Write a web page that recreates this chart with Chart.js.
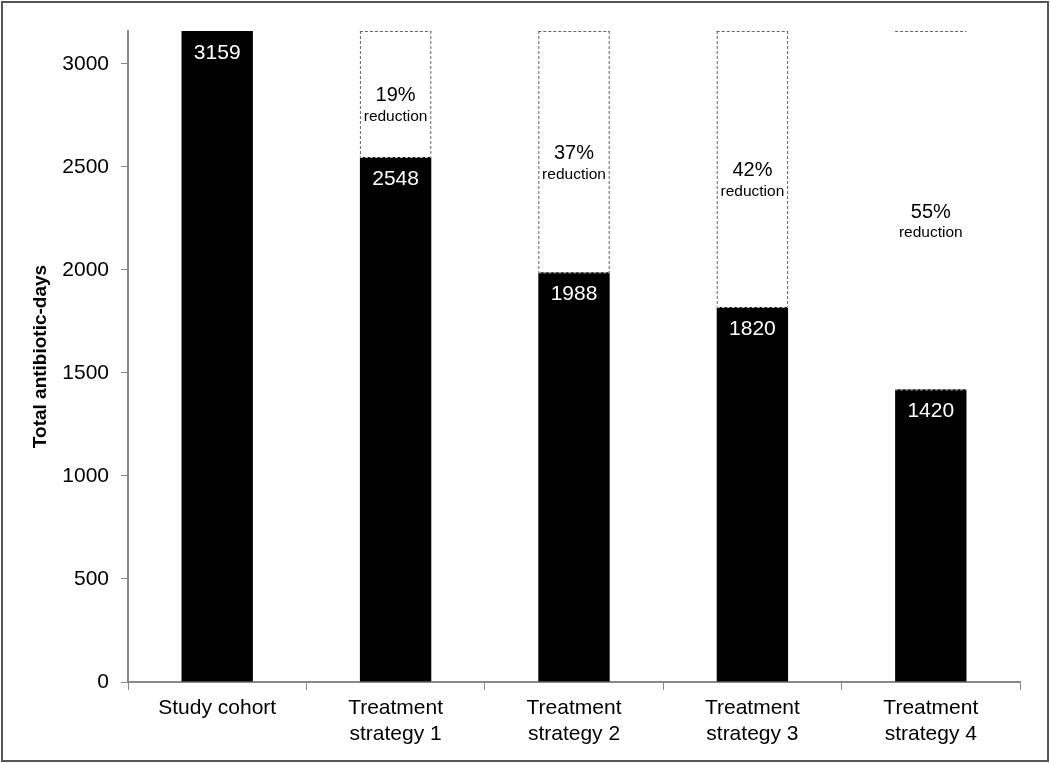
<!DOCTYPE html>
<html>
<head>
<meta charset="utf-8">
<script src="https://cdn.jsdelivr.net/npm/chart.js@4.4.0/dist/chart.umd.min.js"></script>
<style>
  html, body { margin: 0; padding: 0; background: #fff; }
  #wrap { width: 1050px; height: 763px; position: relative; }
</style>
</head>
<body>
<div id="wrap"><canvas id="chart" width="1050" height="763"></canvas></div>
<script>
// chart data
var categories = ['Study cohort', ['Treatment', 'strategy 1'], ['Treatment', 'strategy 2'],
    ['Treatment', 'strategy 3'], ['Treatment', 'strategy 4']];
var antibioticDays = [3159, 2548, 1988, 1820, 1420];
var reductionLabels = ['', '19%', '37%', '42%', '55%'];
var yTicks = [0, 500, 1000, 1500, 2000, 2500, 3000];
var baseline = antibioticDays[0];

// days saved compared with the study cohort (dashed part of the bar)
var savedDays = antibioticDays.map(v => baseline - v);

var FONT = '"Liberation Sans", Arial, sans-serif';

// dashed boxes + text labels on the bars
var barLabels = {
    id: 'barLabels',
    afterDatasetsDraw: function (chart) {
        var ctx = chart.ctx;
        var solid = chart.getDatasetMeta(0).data;
        var ghost = chart.getDatasetMeta(1).data;
        ctx.save();
        ctx.textAlign = 'center';
        ctx.textBaseline = 'middle';

        solid.forEach((bar, i) => {
            ctx.fillStyle = '#fff';
            ctx.font = '21px ' + FONT;
            ctx.fillText(String(antibioticDays[i]), bar.x, bar.y + 22);
        });

        ghost.forEach((bar, i) => {
            if (savedDays[i] <= 0) return;
            var left = bar.x - bar.width / 2;
            var right = bar.x + bar.width / 2;
            var top = bar.y, bottom = bar.base;
            ctx.lineWidth = 1;
            ctx.setLineDash([3, 2]);
            ctx.strokeStyle = '#666';
            ctx.beginPath();
            ctx.moveTo(left, top + 0.5);
            ctx.lineTo(right, top + 0.5);
            // last strategy only shows the top edge
            if (i < ghost.length - 1) {
                ctx.moveTo(left + 0.5, top);
                ctx.lineTo(left + 0.5, bottom);
                ctx.moveTo(right - 0.5, top);
                ctx.lineTo(right - 0.5, bottom);
            }
            ctx.stroke();
            ctx.strokeStyle = '#ccc';
            ctx.beginPath();
            ctx.moveTo(left, bottom + 0.5);
            ctx.lineTo(right, bottom + 0.5);
            ctx.stroke();
            ctx.setLineDash([]);

            var mid = (top + bottom) / 2;
            ctx.fillStyle = '#000';
            ctx.font = '20px ' + FONT;
            ctx.fillText(reductionLabels[i], bar.x, mid + 2);
            ctx.font = '15.5px ' + FONT;
            ctx.fillText('reduction', bar.x, mid + 23);
        });
        ctx.restore();
    },
    afterDraw: function (chart) {
        var ctx = chart.ctx;
        ctx.save();
        ctx.strokeStyle = '#555';
        ctx.lineWidth = 2;
        ctx.strokeRect(2, 2, chart.width - 4, chart.height - 4);
        ctx.restore();
    }
};

var ctx = document.getElementById('chart').getContext('2d');
var chart = new Chart(ctx, {
    type: 'bar',
    data: {
        labels: categories,
        datasets: [{
            data: antibioticDays,
            backgroundColor: '#000',
            borderWidth: 0
        }, {
            data: savedDays,
            backgroundColor: 'rgba(255,255,255,0)',
            borderWidth: 0
        }]
    },
    plugins: [barLabels],
    options: {
        responsive: false,
        animation: false,
        events: [],
        layout: { padding: { top: 31, right: 30, left: 0, bottom: 0 } },
        plugins: {
            legend: { display: false },
            tooltip: { enabled: false }
        },
        datasets: {
            bar: { categoryPercentage: 1, barPercentage: 0.4 }
        },
        scales: {
            x: {
                stacked: true,
                offset: true,
                grid: { offset: true, drawOnChartArea: false, color: '#888', tickLength: 8 },
                border: { color: '#888', width: 2 },
                ticks: {
                    color: '#000', padding: 5, maxRotation: 0,
                    font: { family: FONT, size: 21, lineHeight: 1.24 }
                },
                afterFit: function (scale) { scale.height = 81; }
            },
            y: {
                stacked: true,
                min: 0,
                max: baseline,
                grid: { drawOnChartArea: false, color: '#888', tickLength: 7 },
                border: { color: '#888', width: 2 },
                ticks: {
                    color: '#000', padding: 12,
                    font: { family: FONT, size: 21 },
                    callback: function (value) { return String(value); }
                },
                afterBuildTicks: function (scale) {
                    scale.ticks = yTicks.map(v => ({ value: v }));
                },
                title: {
                    display: true,
                    text: 'Total antibiotic-days',
                    color: '#000',
                    padding: { top: 29, bottom: 0 },
                    font: { family: FONT, size: 19, weight: 'bold' }
                },
                afterFit: function (scale) { scale.width = 128; }
            }
        }
    }
});
</script>
</body>
</html>
